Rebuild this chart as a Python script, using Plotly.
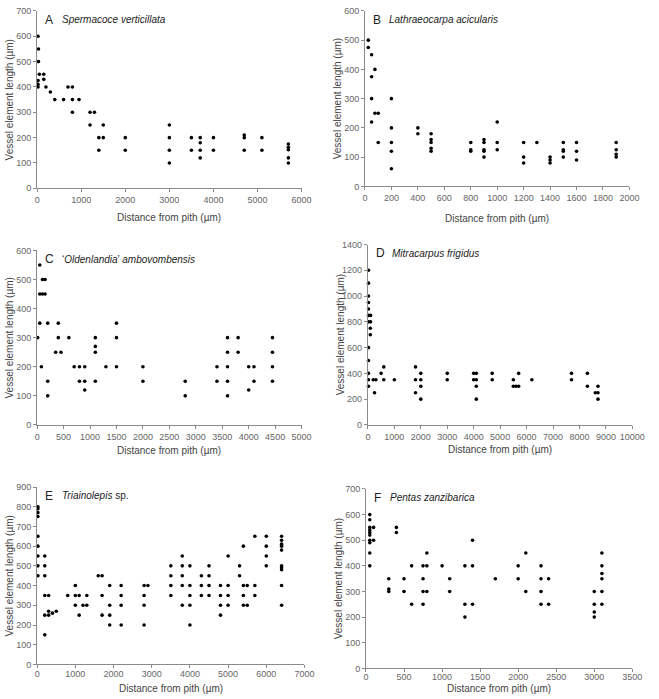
import plotly.graph_objects as go

W, H = 659, 699

# ---------------- data ----------------
# A  Spermacoce verticillata
a_x = [20, 30, 30, 50, 150, 20, 20, 20, 150, 200, 300, 400, 600, 700, 800, 800, 950, 800,
       1200, 1300, 1200, 1500, 1400, 1500, 1400, 2000, 2000,
       3000, 3000, 3000, 3000, 3500, 3500, 3700, 3700, 3700, 3700, 4000, 4000,
       4700, 4700, 4700, 5100, 5100, 5700, 5700, 5700, 5700, 5700]
a_y = [600, 550, 500, 450, 450, 425, 410, 400, 430, 400, 380, 350, 350, 400, 400, 350, 350, 300,
       300, 300, 250, 250, 200, 200, 150, 200, 150,
       250, 200, 150, 100, 200, 150, 200, 180, 150, 120, 200, 150,
       210, 200, 150, 200, 150, 175, 162, 152, 120, 100]

# B  Lathraeocarpa acicularis
b_x = [25, 25, 50, 50, 75, 50, 75, 100, 50, 100, 200, 200, 200, 200, 200, 400, 400,
       500, 500, 500, 500, 500, 800, 800, 800, 900, 900, 900, 900, 900, 1000, 1000, 1000,
       1200, 1200, 1200, 1300, 1400, 1400, 1400, 1500, 1500, 1500, 1500, 1600, 1600, 1600,
       1900, 1900, 1900, 1900]
b_y = [500, 475, 450, 375, 400, 300, 250, 250, 220, 150, 300, 200, 150, 120, 60, 200, 180,
       180, 160, 150, 130, 120, 150, 125, 120, 160, 150, 125, 120, 100, 220, 150, 125,
       150, 100, 80, 150, 100, 90, 80, 150, 125, 120, 100, 150, 120, 90,
       150, 125, 110, 100]

# C  'Oldenlandia' ambovombensis
c_x = [50, 100, 150, 50, 100, 150, 50, 200, 400, 10, 400, 600, 350, 450, 80, 700, 800, 900,
       200, 800, 900, 900, 200, 1100, 1100, 1100, 1100, 1300, 1500, 1500, 1500, 2000, 2000,
       2800, 2800, 3400, 3400, 3600, 3600, 3600, 3600, 3600, 3800, 3800, 4000, 4000, 4100, 4100,
       4450, 4450, 4450, 4450]
c_y = [550, 500, 500, 450, 450, 450, 350, 350, 350, 300, 300, 300, 250, 250, 200, 200, 200, 200,
       150, 150, 150, 120, 100, 300, 270, 250, 150, 200, 350, 300, 200, 200, 150,
       150, 100, 200, 150, 300, 250, 200, 150, 100, 300, 250, 200, 120, 200, 150,
       300, 250, 200, 150]

# D  Mitracarpus frigidus
d_x = [20, 20, 20, 20, 20, 20, 100, 20, 100, 90, 90, 20, 20, 20, 20, 200, 300, 20, 250,
       500, 600, 600, 1000, 1800, 1800, 1800, 2000, 2000, 2000, 2000, 3000, 3000,
       4000, 4100, 4000, 4100, 4100, 4100, 4700, 4700, 5500, 5500, 5600, 5700, 5700, 6200,
       7700, 7700, 8300, 8300, 8600, 8700, 8700, 8700]
d_y = [1200, 1100, 1000, 950, 900, 850, 850, 800, 800, 750, 700, 600, 500, 400, 350, 350, 350, 300, 250,
       400, 450, 350, 350, 450, 350, 250, 400, 350, 300, 200, 400, 350,
       400, 400, 350, 350, 300, 200, 400, 350, 350, 300, 300, 300, 400, 350,
       400, 350, 400, 300, 250, 250, 300, 200]

# E  Triainolepis sp.
e_x = [20, 20, 20, 20, 20, 20, 20, 20, 20,
       200, 200, 200, 200, 300, 200, 300, 300, 400, 500, 200, 800,
       1000, 1000, 1000, 1100, 1100, 1200, 1300, 1300, 1600, 1700, 1700, 1700,
       1900, 1900, 1900, 1900, 2200, 2200, 2200, 2200, 2800, 2800, 2800, 2800, 2900,
       3500, 3500, 3500, 3500, 3800, 3800, 3800, 3800, 3800, 4000, 4000, 4000, 4000, 4000,
       4300, 4300, 4300, 4500, 4500, 4500, 4500, 4800, 4800, 4800, 4800,
       5000, 5000, 5000, 5000, 5300, 5300, 5400, 5400, 5400, 5400, 5500, 5500,
       5700, 5700, 5700, 6000, 6000, 6000, 6000,
       6400, 6400, 6400, 6400, 6400, 6400, 6400, 6400, 6400, 6400]
e_y = [800, 790, 770, 750, 650, 600, 550, 500, 450,
       550, 500, 450, 350, 350, 250, 250, 270, 260, 270, 150, 350,
       400, 350, 300, 350, 250, 300, 350, 300, 450, 450, 350, 250,
       400, 300, 250, 200, 400, 350, 300, 200, 400, 350, 300, 200, 400,
       500, 450, 400, 350, 550, 500, 450, 400, 300, 500, 400, 350, 300, 200,
       450, 400, 350, 500, 450, 400, 350, 400, 350, 300, 250,
       550, 400, 350, 300, 500, 450, 600, 400, 350, 300, 400, 300,
       650, 400, 350, 650, 600, 550, 500,
       650, 630, 610, 600, 580, 500, 490, 480, 400, 300]

# F  Pentas zanzibarica
f_x = [50, 50, 50, 50, 50, 50, 50, 50, 50, 50, 100, 100, 300, 300, 300, 400, 400, 500, 500,
       600, 600, 750, 750, 750, 750, 800, 800, 800, 1000, 1100, 1100, 1300, 1300, 1300,
       1400, 1400, 1400, 1700, 2000, 2000, 2100, 2100, 2300, 2300, 2300, 2300, 2400, 2400,
       3000, 3000, 3000, 3000, 3100, 3100, 3100, 3100, 3100, 3100]
f_y = [600, 580, 550, 540, 530, 520, 500, 490, 450, 400, 550, 500, 350, 310, 300, 550, 530, 350, 300,
       400, 250, 400, 350, 300, 250, 450, 400, 300, 400, 350, 300, 400, 250, 200,
       500, 400, 250, 350, 400, 350, 450, 300, 400, 350, 300, 250, 350, 250,
       300, 250, 220, 200, 450, 400, 370, 350, 300, 250]

panel_letters = ["A", "B", "C", "D", "E", "F"]
species = ["<i>Spermacoce verticillata</i>", "<i>Lathraeocarpa acicularis</i>",
           "‘<i>Oldenlandia</i>’ <i>ambovombensis</i>", "<i>Mitracarpus frigidus</i>",
           "<i>Triainolepis</i> sp.", "<i>Pentas zanzibarica</i>"]
x_max = [6000, 2000, 5000, 10000, 7000, 3500]
x_step = [1000, 200, 500, 1000, 1000, 500]
y_max = [700, 600, 600, 1400, 900, 700]
y_step = [100, 100, 100, 200, 100, 100]
x_title = "Distance from pith (µm)"
y_title = "Vessel element length (µm)"

series = [(a_x, a_y), (b_x, b_y), (c_x, c_y), (d_x, d_y), (e_x, e_y), (f_x, f_y)]

# pixel boxes for each panel: left, right, top, bottom
boxes = [(35, 306, 6, 186), (371, 642, 6, 184),
         (35, 306, 249, 426), (374, 645, 243, 426),
         (35, 309, 489, 669), (372, 645, 491, 673)]
xtitle_y = [216, 217, 452, 451, 693, 693]
xlabel_standoff = [0, 0, 0, 0, -2, -3]

FONT = "Liberation Sans, Arial, Helvetica, sans-serif"

def px(x):
    return x / W

def py(y):
    return 1 - y / H

fig = go.Figure()
layout = dict(width=W, height=H, margin=dict(l=0, r=0, t=0, b=0),
              paper_bgcolor="white", plot_bgcolor="white", showlegend=False,
              font=dict(family=FONT, color="#555"))
annotations = []

for i, ((xs, ys), (l, r, t, b)) in enumerate(zip(series, boxes)):
    n = "" if i == 0 else str(i + 1)
    fig.add_trace(go.Scatter(x=xs, y=ys, mode="markers", xaxis="x" + n, yaxis="y" + n,
                             marker=dict(size=3.6, color="black"), cliponaxis=False,
                             hoverinfo="x+y"))
    axis_common = dict(showline=True, linecolor="#8a8a8a", linewidth=1, ticks="outside",
                       ticklen=3, tickcolor="#8a8a8a", tickwidth=1, showgrid=False,
                       zeroline=False, tickformat="d",
                       tickfont=dict(size=9, color="#666", family=FONT))
    layout["xaxis" + n] = dict(axis_common, domain=[px(l), px(r)], range=[0, x_max[i]],
                               tickmode="linear", tick0=0, dtick=x_step[i],
                               ticklabelstandoff=xlabel_standoff[i],
                               anchor="y" + n)
    layout["yaxis" + n] = dict(axis_common, domain=[py(b), py(t)], range=[0, y_max[i]],
                               tickmode="linear", tick0=0, dtick=y_step[i],
                               anchor="x" + n)
    # panel letter and species
    annotations.append(dict(text=panel_letters[i], x=px(l + 6), y=py(t + 9), xref="paper", yref="paper",
                            xanchor="left", yanchor="middle", showarrow=False,
                            font=dict(size=12, color="#222", family=FONT)))
    annotations.append(dict(text=species[i], x=px(l + 23), y=py(t + 9), xref="paper", yref="paper",
                            xanchor="left", yanchor="middle", showarrow=False,
                            font=dict(size=10, color="#222", family=FONT)))
    # axis titles
    annotations.append(dict(text=x_title, x=px((l + r) / 2), y=py(xtitle_y[i]), xref="paper",
                            yref="paper", xanchor="center", yanchor="middle", showarrow=False,
                            font=dict(size=10, color="#444", family=FONT)))
    annotations.append(dict(text=y_title, x=px(l - 28), y=py((t + b) / 2), xref="paper",
                            yref="paper", xanchor="center", yanchor="middle", showarrow=False,
                            textangle=-90, font=dict(size=10, color="#444", family=FONT)))

layout["annotations"] = annotations
fig.update_layout(**layout)
fig.write_html("out.html", config={"displayModeBar": False},
               post_script="document.body.style.margin='0';document.body.style.overflow='hidden';")
